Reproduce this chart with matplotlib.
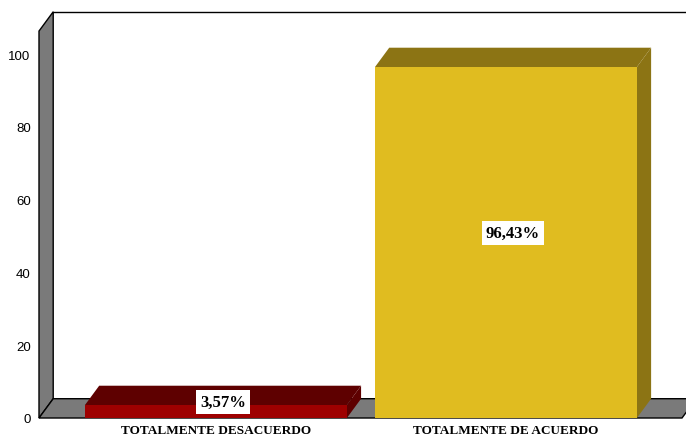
import matplotlib.pyplot as plt
from matplotlib.patches import Polygon, Rectangle

categorias = ['TOTALMENTE DESACUERDO', 'TOTALMENTE DE ACUERDO']
porcentajes = [3.57, 96.43]
etiquetas = ['3,57%', '96,43%']
colores_frente = ['#9e0000', '#e0bc20']
colores_sombra = ['#5e0000', '#8c7414']
ticks_y = [0, 20, 40, 60, 80, 100]

# geometry of the pseudo-3D box (data units)
x_ini, x_fin = -0.61, 1.607
alto_pared = 106.3
dx, dy = 0.049, 5.3
ancho = 0.903
gris = '#7a7a7a'

fig = plt.figure(figsize=(6.86, 4.39), dpi=100)
ax = fig.add_axes([39 / 686, 20 / 439, (682 - 39) / 686, 364 / 439])
ax.set_xlim(x_ini, x_fin)
ax.set_ylim(0, 100)
for s in ax.spines.values():
    s.set_visible(False)

# left wall and floor
pared = Polygon([(x_ini, 0), (x_ini + dx, dy), (x_ini + dx, alto_pared + dy),
                 (x_ini, alto_pared)], closed=True, facecolor=gris,
                edgecolor='black', lw=1, clip_on=False, zorder=1)
piso = Polygon([(x_ini, 0), (x_fin, 0), (x_fin + dx, dy), (x_ini + dx, dy)],
               closed=True, facecolor=gris, edgecolor='black', lw=1,
               clip_on=False, zorder=1)
ax.add_patch(pared)
ax.add_patch(piso)
ax.plot([x_ini + dx, x_fin + dx + 0.1], [alto_pared + dy, alto_pared + dy],
        color='black', lw=1, clip_on=False, zorder=1)

# bars: front face, top face and right side
for i, v in enumerate(porcentajes):
    x0 = i - ancho / 2
    x1 = i + ancho / 2
    lado = Polygon([(x1, 0), (x1 + dx, dy), (x1 + dx, v + dy), (x1, v)],
                   closed=True, facecolor=colores_sombra[i], edgecolor='none',
                   clip_on=False, zorder=2)
    tapa = Polygon([(x0, v), (x0 + dx, v + dy), (x1 + dx, v + dy), (x1, v)],
                   closed=True, facecolor=colores_sombra[i], edgecolor='none',
                   clip_on=False, zorder=2)
    frente = Rectangle((x0, 0), ancho, v, facecolor=colores_frente[i],
                       edgecolor='none', clip_on=False, zorder=3)
    ax.add_patch(lado)
    ax.add_patch(tapa)
    ax.add_patch(frente)
    # value label centred on the whole bar volume
    ax.text(i + dx / 2, (v + dy) / 2, etiquetas[i],
            ha='center', va='center', fontsize=12, fontweight='bold',
            family='Liberation Serif', zorder=5,
            bbox=dict(boxstyle='square,pad=0.25', facecolor='white',
                      edgecolor='none'))

ax.set_yticks(ticks_y)
ax.set_yticklabels([str(t) for t in ticks_y], family='Liberation Sans',
                   fontsize=9.5)
ax.set_xticks(range(len(categorias)))
ax.set_xticklabels(categorias, family='Liberation Serif', fontweight='bold',
                   fontsize=9.5)
ax.tick_params(axis='y', length=0, pad=6)
ax.tick_params(axis='x', length=0, pad=4)

fig.savefig('out.png', dpi=100)
